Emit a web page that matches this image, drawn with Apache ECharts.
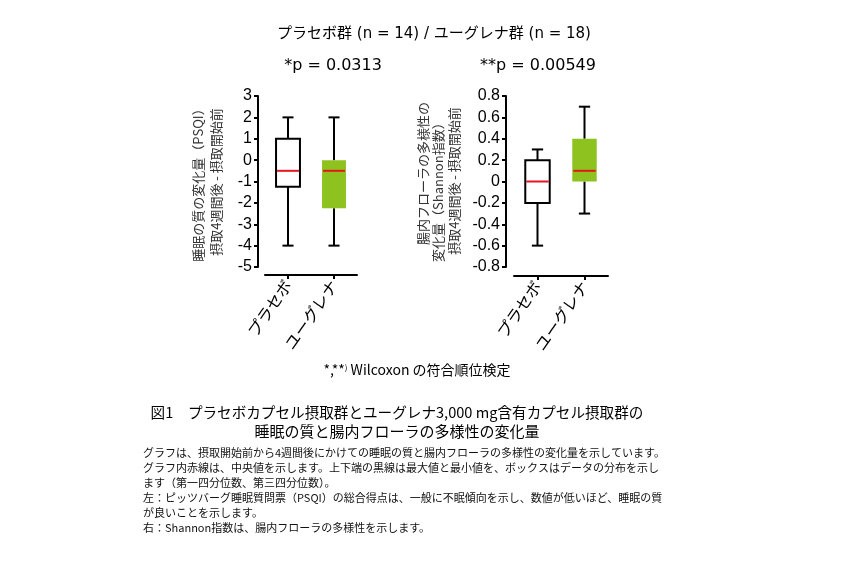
<!DOCTYPE html>
<html>
<head>
<meta charset="utf-8">
<script src="https://cdn.jsdelivr.net/npm/echarts@6/dist/echarts.min.js"></script>
<style>
html,body{margin:0;padding:0;background:#fff;}
#chart{width:850px;height:567px;}
</style>
</head>
<body>
<div id="chart"></div>
<script>
// ---- data ----
const categories = ['プラセボ', 'ユーグレナ'];
// [min, Q1, median, Q3, max]
const psqiPlacebo = [-4, -1.25, -0.5, 1, 2];
const psqiEuglena = [-4, -2.25, -0.5, 0, 2];
const shannonPlacebo = [-0.6, -0.2, 0, 0.2, 0.3];
const shannonEuglena = [-0.3, 0, 0.1, 0.4, 0.7];
const psqiAxis = [-5, 3, 1];        // min, max, interval
const shannonAxis = [-0.8, 0.8, 0.2];
const titleText = 'プラセボ群 (n = 14) / ユーグレナ群 (n = 18)';
const pLeft = '*p = 0.0313';
const pRight = '**p = 0.00549';
const leftAxisName = ['睡眠の質の変化量（PSQI）', '摂取4週間後 - 摂取開始前'];
const rightAxisName = ['腸内フローラの多様性の', '変化量（Shannon指数）', '摂取4週間後 - 摂取開始前'];
const captionTitle = ['図1　プラセボカプセル摂取群とユーグレナ3,000 mg含有カプセル摂取群の', '睡眠の質と腸内フローラの多様性の変化量'];
const captionBody = [
  'グラフは、摂取開始前から4週間後にかけての睡眠の質と腸内フローラの多様性の変化量を示しています。',
  'グラフ内赤線は、中央値を示します。上下端の黒線は最大値と最小値を、ボックスはデータの分布を示し',
  'ます（第一四分位数、第三四分位数）。',
  '左：ピッツバーグ睡眠質問票（PSQI）の総合得点は、一般に不眠傾向を示し、数値が低いほど、睡眠の質',
  'が良いことを示します。',
  '右：Shannon指数は、腸内フローラの多様性を示します。'
];

const GREEN = '#8dc21f';
const RED = '#e8141e';
const JP = '"Noto Sans CJK JP", "Noto Sans", sans-serif';
const DJ = '"DejaVu Sans", "Noto Sans CJK JP", sans-serif';
const LAT = '"Liberation Sans", Arial, sans-serif';

function boxRender(fills, strokes) {
  return function (params, api) {
    const xi = api.value(0);
    const vals = [api.value(1), api.value(2), api.value(3), api.value(4), api.value(5)];
    const band = api.size([1, 0])[0];
    const bw = band * 0.52;
    const cw = band * 0.24;
    const p = vals.map(v => api.coord([xi, v]));
    const cx = p[0][0];
    const black = {stroke: '#000', lineWidth: 2};
    const children = [
      {type: 'line', shape: {x1: cx, y1: p[4][1], x2: cx, y2: p[3][1]}, style: black},
      {type: 'line', shape: {x1: cx, y1: p[1][1], x2: cx, y2: p[0][1]}, style: black},
      {type: 'line', shape: {x1: cx - cw / 2, y1: p[4][1], x2: cx + cw / 2, y2: p[4][1]}, style: black},
      {type: 'line', shape: {x1: cx - cw / 2, y1: p[0][1], x2: cx + cw / 2, y2: p[0][1]}, style: black},
      {type: 'rect', shape: {x: cx - bw / 2, y: p[3][1], width: bw, height: p[1][1] - p[3][1]},
        style: {fill: fills[xi], stroke: strokes[xi], lineWidth: strokes[xi] ? 2 : 0}},
      {type: 'line', shape: {x1: cx - bw / 2 + 1, y1: p[2][1], x2: cx + bw / 2 - 1, y2: p[2][1]},
        style: {stroke: RED, lineWidth: 2}}
    ];
    return {type: 'group', children: children};
  };
}

const axisTickStyle = {show: true, length: 4, lineStyle: {color: '#000', width: 2}};

function xAx(gi, off) {
  return {
    type: 'category', gridIndex: gi, data: categories, offset: off,
    axisLine: {show: true, onZero: false, lineStyle: {color: '#000', width: 2}},
    axisTick: Object.assign({alignWithLabel: true}, axisTickStyle),
    axisLabel: {rotate: 55, margin: 7, color: '#000', fontSize: 16, fontFamily: JP},
    splitLine: {show: false}
  };
}
function yAx(gi, rng, off) {
  return {
    type: 'value', gridIndex: gi, min: rng[0], max: rng[1], interval: rng[2], offset: off,
    axisLine: {show: true, onZero: false, lineStyle: {color: '#000', width: 2}},
    axisTick: axisTickStyle,
    axisLabel: {margin: 6, color: '#000', fontSize: 16, fontFamily: LAT},
    splitLine: {show: false}
  };
}

const graphics = [];
function txt(x, y, text, size, opts) {
  graphics.push(Object.assign({
    type: 'text', x: x, y: y,
    style: Object.assign({text: text, fontSize: size, fontFamily: JP, fill: '#000',
      textAlign: 'center', textVerticalAlign: 'middle'}, (opts && opts.style) || {})
  }, (opts && opts.el) || {}));
}
txt(434, 34, titleText, 15, {style: {fontFamily: DJ}});
txt(333, 66, pLeft, 16, {style: {fontFamily: DJ}});
txt(538, 66, pRight, 16, {style: {fontFamily: DJ}});
// axis names (rotated)
const rot = {rotation: Math.PI / 2};
txt(198, 182, leftAxisName[0], 13, {el: rot, style: {fill: '#333'}});
txt(216, 182, leftAxisName[1], 13, {el: rot, style: {fill: '#333'}});
txt(423, 102, rightAxisName[0], 13, {el: rot, style: {fill: '#333', textAlign: 'right'}});
txt(438, 262, rightAxisName[1], 13, {el: rot, style: {fill: '#333', textAlign: 'left'}});
txt(454, 181, rightAxisName[2], 13, {el: rot, style: {fill: '#333'}});
// footnote
graphics.push({
  type: 'text', x: 417, y: 370,
  style: {
    text: '*,**{sup|)} Wilcoxon の符合順位検定',
    rich: {sup: {fontSize: 8, fontFamily: JP, fill: '#000', padding: [0, 0, 7, 0]}},
    fontSize: 14, fontFamily: JP, fill: '#000', textAlign: 'center', textVerticalAlign: 'middle'
  }
});
txt(397, 412, captionTitle[0], 14.6);
txt(397, 431, captionTitle[1], 15);
const bodyY = [453, 468, 483, 498, 513, 528];
captionBody.forEach((t, i) => {
  txt(143, bodyY[i], t, 11, {style: {textAlign: 'left', fill: '#111'}});
});

const option = {
  backgroundColor: '#fff',
  animation: false,
  grid: [
    {left: 265, top: 96, width: 92, height: 171},
    {left: 514, top: 96, width: 94, height: 171}
  ],
  xAxis: [xAx(0, 8), xAx(1, 9)],
  yAxis: [yAx(0, psqiAxis, 7), yAx(1, shannonAxis, 8)],
  series: [
    {
      type: 'custom', xAxisIndex: 0, yAxisIndex: 0,
      renderItem: boxRender(['#fff', GREEN], ['#000', null]),
      encode: {x: 0, y: [1, 2, 3, 4, 5]},
      data: [[0].concat(psqiPlacebo), [1].concat(psqiEuglena)]
    },
    {
      type: 'custom', xAxisIndex: 1, yAxisIndex: 1,
      renderItem: boxRender(['#fff', GREEN], ['#000', null]),
      encode: {x: 0, y: [1, 2, 3, 4, 5]},
      data: [[0].concat(shannonPlacebo), [1].concat(shannonEuglena)]
    }
  ],
  graphic: graphics
};

const chart = echarts.init(document.getElementById('chart'));
chart.setOption(option);
</script>
</body>
</html>
